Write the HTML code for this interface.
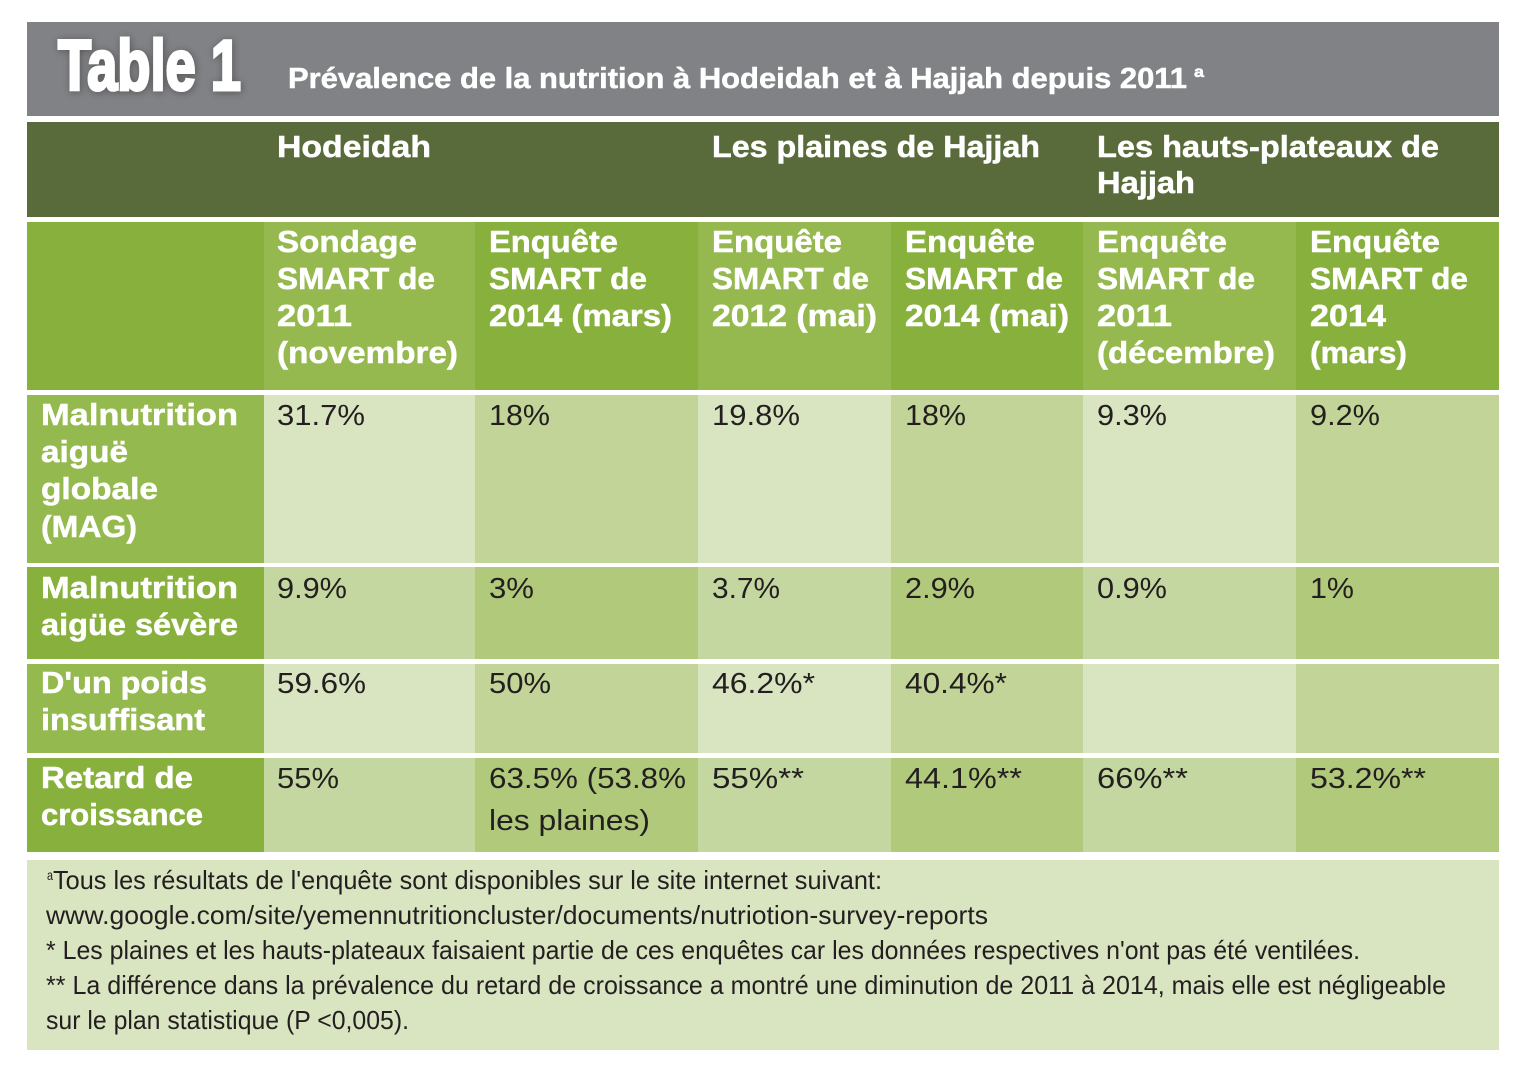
<!DOCTYPE html>
<html>
<head>
<meta charset="utf-8">
<style>
  html,body{margin:0;padding:0;background:#ffffff;}
  svg{display:block;}
  .b{font-family:"Liberation Sans",sans-serif;font-weight:bold;fill:#ffffff;stroke:#ffffff;stroke-width:0.5;}
  .r{font-family:"Liberation Sans",sans-serif;fill:#231f20;}
</style>
</head>
<body>
<svg width="1519" height="1074" viewBox="0 0 1519 1074" xmlns="http://www.w3.org/2000/svg">
  <defs>
    <filter id="sh" x="-10%" y="-20%" width="120%" height="140%">
      <feGaussianBlur in="SourceAlpha" stdDeviation="4"/>
      <feOffset dx="1" dy="1" result="o"/>
      <feComponentTransfer><feFuncA type="linear" slope="0.35"/></feComponentTransfer>
      <feMerge><feMergeNode/><feMergeNode in="SourceGraphic"/></feMerge>
    </filter>
  </defs>
  <rect x="0" y="0" width="1519" height="1074" fill="#ffffff"/>
  <!-- title bar -->
  <rect x="27" y="22" width="1472" height="94" fill="#818285"/>
  <text class="b" x="58" y="90" font-size="71" style="stroke-width:3" textLength="183" lengthAdjust="spacingAndGlyphs" filter="url(#sh)">Table 1</text>
  <text class="b" x="288" y="88" font-size="29" textLength="899" lengthAdjust="spacingAndGlyphs">Prévalence de la nutrition à Hodeidah et à Hajjah depuis 2011</text>
  <text class="b" x="1194" y="77" font-size="16" textLength="10" lengthAdjust="spacingAndGlyphs">a</text>

  <!-- dark green header -->
  <rect x="27" y="122" width="1472" height="95" fill="#5a6b3b"/>
  <g font-size="31">
  <text class="b" x="277" y="157" textLength="154" lengthAdjust="spacingAndGlyphs">Hodeidah</text>
  <text class="b" x="712" y="157" textLength="328" lengthAdjust="spacingAndGlyphs">Les plaines de Hajjah</text>
  <text class="b" x="1097" y="157" textLength="342" lengthAdjust="spacingAndGlyphs">Les hauts-plateaux de</text>
  <text class="b" x="1097" y="193" textLength="98" lengthAdjust="spacingAndGlyphs">Hajjah</text>
  </g>

  <!-- sub header -->
  <rect x="27" y="222" width="237" height="168" fill="#87b03d"/>
  <rect x="264" y="222" width="211" height="168" fill="#95b94f"/>
  <rect x="475" y="222" width="223" height="168" fill="#87b03d"/>
  <rect x="698" y="222" width="193" height="168" fill="#95b94f"/>
  <rect x="891" y="222" width="192" height="168" fill="#87b03d"/>
  <rect x="1083" y="222" width="213" height="168" fill="#95b94f"/>
  <rect x="1296" y="222" width="203" height="168" fill="#87b03d"/>

  <g font-size="31">
    <text class="b" x="277" y="252" textLength="140" lengthAdjust="spacingAndGlyphs">Sondage</text>
    <text class="b" x="277" y="289" textLength="158" lengthAdjust="spacingAndGlyphs">SMART de</text>
    <text class="b" x="277" y="326" textLength="75" lengthAdjust="spacingAndGlyphs">2011</text>
    <text class="b" x="277" y="363" textLength="181" lengthAdjust="spacingAndGlyphs">(novembre)</text>

    <text class="b" x="489" y="252" textLength="129" lengthAdjust="spacingAndGlyphs">Enquête</text>
    <text class="b" x="489" y="289" textLength="158" lengthAdjust="spacingAndGlyphs">SMART de</text>
    <text class="b" x="489" y="326" textLength="183" lengthAdjust="spacingAndGlyphs">2014 (mars)</text>

    <text class="b" x="712" y="252" textLength="130" lengthAdjust="spacingAndGlyphs">Enquête</text>
    <text class="b" x="712" y="289" textLength="157" lengthAdjust="spacingAndGlyphs">SMART de</text>
    <text class="b" x="712" y="326" textLength="165" lengthAdjust="spacingAndGlyphs">2012 (mai)</text>

    <text class="b" x="905" y="252" textLength="130" lengthAdjust="spacingAndGlyphs">Enquête</text>
    <text class="b" x="905" y="289" textLength="158" lengthAdjust="spacingAndGlyphs">SMART de</text>
    <text class="b" x="905" y="326" textLength="164" lengthAdjust="spacingAndGlyphs">2014 (mai)</text>

    <text class="b" x="1097" y="252" textLength="130" lengthAdjust="spacingAndGlyphs">Enquête</text>
    <text class="b" x="1097" y="289" textLength="158" lengthAdjust="spacingAndGlyphs">SMART de</text>
    <text class="b" x="1097" y="326" textLength="75" lengthAdjust="spacingAndGlyphs">2011</text>
    <text class="b" x="1097" y="363" textLength="178" lengthAdjust="spacingAndGlyphs">(décembre)</text>

    <text class="b" x="1310" y="252" textLength="130" lengthAdjust="spacingAndGlyphs">Enquête</text>
    <text class="b" x="1310" y="289" textLength="158" lengthAdjust="spacingAndGlyphs">SMART de</text>
    <text class="b" x="1310" y="326" textLength="76" lengthAdjust="spacingAndGlyphs">2014</text>
    <text class="b" x="1310" y="363" textLength="97" lengthAdjust="spacingAndGlyphs">(mars)</text>
  </g>

  <!-- row 1 -->
  <rect x="27" y="395" width="237" height="168" fill="#94b94e"/>
  <rect x="264" y="395" width="211" height="168" fill="#d9e4c1"/>
  <rect x="475" y="395" width="223" height="168" fill="#c2d497"/>
  <rect x="698" y="395" width="193" height="168" fill="#d9e4c1"/>
  <rect x="891" y="395" width="192" height="168" fill="#c2d497"/>
  <rect x="1083" y="395" width="213" height="168" fill="#d9e4c1"/>
  <rect x="1296" y="395" width="203" height="168" fill="#c2d497"/>

  <!-- row 2 -->
  <rect x="27" y="567" width="237" height="92" fill="#87b03d"/>
  <rect x="264" y="567" width="211" height="92" fill="#c5d7a0"/>
  <rect x="475" y="567" width="223" height="92" fill="#b1c97b"/>
  <rect x="698" y="567" width="193" height="92" fill="#c5d7a0"/>
  <rect x="891" y="567" width="192" height="92" fill="#b1c97b"/>
  <rect x="1083" y="567" width="213" height="92" fill="#c5d7a0"/>
  <rect x="1296" y="567" width="203" height="92" fill="#b1c97b"/>

  <!-- row 3 -->
  <rect x="27" y="664" width="237" height="89" fill="#94b94e"/>
  <rect x="264" y="664" width="211" height="89" fill="#d9e4c1"/>
  <rect x="475" y="664" width="223" height="89" fill="#c2d497"/>
  <rect x="698" y="664" width="193" height="89" fill="#d9e4c1"/>
  <rect x="891" y="664" width="192" height="89" fill="#c2d497"/>
  <rect x="1083" y="664" width="213" height="89" fill="#d9e4c1"/>
  <rect x="1296" y="664" width="203" height="89" fill="#c2d497"/>

  <!-- row 4 -->
  <rect x="27" y="758" width="237" height="94" fill="#87b03d"/>
  <rect x="264" y="758" width="211" height="94" fill="#c5d7a0"/>
  <rect x="475" y="758" width="223" height="94" fill="#b1c97b"/>
  <rect x="698" y="758" width="193" height="94" fill="#c5d7a0"/>
  <rect x="891" y="758" width="192" height="94" fill="#b1c97b"/>
  <rect x="1083" y="758" width="213" height="94" fill="#c5d7a0"/>
  <rect x="1296" y="758" width="203" height="94" fill="#b1c97b"/>

  <!-- row labels -->
  <g font-size="31">
    <text class="b" x="41" y="425" textLength="197" lengthAdjust="spacingAndGlyphs">Malnutrition</text>
    <text class="b" x="41" y="462" textLength="87" lengthAdjust="spacingAndGlyphs">aiguë</text>
    <text class="b" x="41" y="499" textLength="117" lengthAdjust="spacingAndGlyphs">globale</text>
    <text class="b" x="41" y="537" textLength="96" lengthAdjust="spacingAndGlyphs">(MAG)</text>

    <text class="b" x="41" y="598" textLength="197" lengthAdjust="spacingAndGlyphs">Malnutrition</text>
    <text class="b" x="41" y="635" textLength="197" lengthAdjust="spacingAndGlyphs">aigüe sévère</text>

    <text class="b" x="41" y="693" textLength="166" lengthAdjust="spacingAndGlyphs">D'un poids</text>
    <text class="b" x="41" y="730" textLength="164" lengthAdjust="spacingAndGlyphs">insuffisant</text>

    <text class="b" x="41" y="788" textLength="152" lengthAdjust="spacingAndGlyphs">Retard de</text>
    <text class="b" x="41" y="825" textLength="162" lengthAdjust="spacingAndGlyphs">croissance</text>
  </g>

  <!-- data -->
  <g font-size="28.5">
    <text class="r" x="277" y="425" textLength="88" lengthAdjust="spacingAndGlyphs">31.7%</text>
    <text class="r" x="489" y="425" textLength="61" lengthAdjust="spacingAndGlyphs">18%</text>
    <text class="r" x="712" y="425" textLength="88" lengthAdjust="spacingAndGlyphs">19.8%</text>
    <text class="r" x="905" y="425" textLength="61" lengthAdjust="spacingAndGlyphs">18%</text>
    <text class="r" x="1097" y="425" textLength="70" lengthAdjust="spacingAndGlyphs">9.3%</text>
    <text class="r" x="1310" y="425" textLength="70" lengthAdjust="spacingAndGlyphs">9.2%</text>

    <text class="r" x="277" y="598" textLength="70" lengthAdjust="spacingAndGlyphs">9.9%</text>
    <text class="r" x="489" y="598" textLength="45" lengthAdjust="spacingAndGlyphs">3%</text>
    <text class="r" x="712" y="598" textLength="68" lengthAdjust="spacingAndGlyphs">3.7%</text>
    <text class="r" x="905" y="598" textLength="70" lengthAdjust="spacingAndGlyphs">2.9%</text>
    <text class="r" x="1097" y="598" textLength="70" lengthAdjust="spacingAndGlyphs">0.9%</text>
    <text class="r" x="1310" y="598" textLength="44" lengthAdjust="spacingAndGlyphs">1%</text>

    <text class="r" x="277" y="693" textLength="89" lengthAdjust="spacingAndGlyphs">59.6%</text>
    <text class="r" x="489" y="693" textLength="62" lengthAdjust="spacingAndGlyphs">50%</text>
    <text class="r" x="712" y="693" textLength="103" lengthAdjust="spacingAndGlyphs">46.2%*</text>
    <text class="r" x="905" y="693" textLength="102" lengthAdjust="spacingAndGlyphs">40.4%*</text>

    <text class="r" x="277" y="788" textLength="62" lengthAdjust="spacingAndGlyphs">55%</text>
    <text class="r" x="489" y="788" textLength="197" lengthAdjust="spacingAndGlyphs">63.5% (53.8%</text>
    <text class="r" x="489" y="830" textLength="161" lengthAdjust="spacingAndGlyphs">les plaines)</text>
    <text class="r" x="712" y="788" textLength="92" lengthAdjust="spacingAndGlyphs">55%**</text>
    <text class="r" x="905" y="788" textLength="117" lengthAdjust="spacingAndGlyphs">44.1%**</text>
    <text class="r" x="1097" y="788" textLength="91" lengthAdjust="spacingAndGlyphs">66%**</text>
    <text class="r" x="1310" y="788" textLength="116" lengthAdjust="spacingAndGlyphs">53.2%**</text>
  </g>

  <!-- footer -->
  <rect x="27" y="860" width="1472" height="190" fill="#d9e4c1"/>
  <g font-size="26">
    <text class="r" x="47" y="880" font-size="14" textLength="6" lengthAdjust="spacingAndGlyphs">a</text>
    <text class="r" x="53" y="889" textLength="829" lengthAdjust="spacingAndGlyphs">Tous les résultats de l'enquête sont disponibles sur le site internet suivant:</text>
    <text class="r" x="46" y="924" textLength="942" lengthAdjust="spacingAndGlyphs">www.google.com/site/yemennutritioncluster/documents/nutriotion-survey-reports</text>
    <text class="r" x="46" y="959" textLength="1314" lengthAdjust="spacingAndGlyphs">* Les plaines et les hauts-plateaux faisaient partie de ces enquêtes car les données respectives n'ont pas été ventilées.</text>
    <text class="r" x="46" y="994" textLength="1400" lengthAdjust="spacingAndGlyphs">** La différence dans la prévalence du retard de croissance a montré une diminution de 2011 à 2014, mais elle est négligeable</text>
    <text class="r" x="46" y="1029" textLength="363" lengthAdjust="spacingAndGlyphs">sur le plan statistique (P &lt;0,005).</text>
  </g>
</svg>
</body>
</html>
